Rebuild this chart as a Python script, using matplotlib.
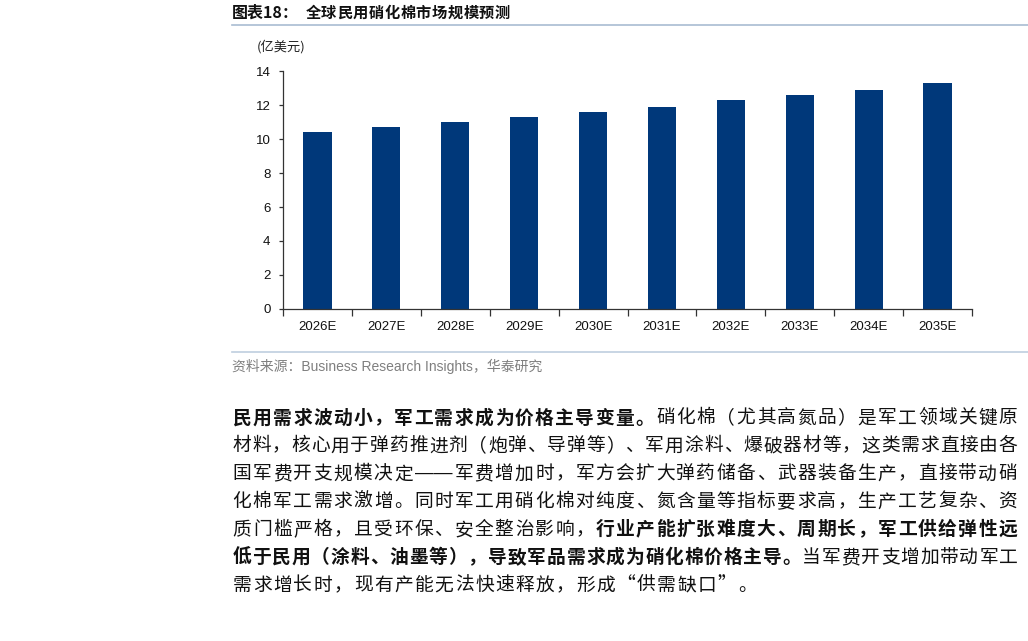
import matplotlib
matplotlib.use("Agg")
import matplotlib.pyplot as plt
from matplotlib.ticker import FixedLocator

W, H = 1028, 641

years = ["2026E", "2027E", "2028E", "2029E", "2030E",
         "2031E", "2032E", "2033E", "2034E", "2035E"]
market_size = [10.4, 10.7, 11.0, 11.3, 11.6, 11.9, 12.3, 12.6, 12.9, 13.3]

title_tag = "图表18："
title_text = "全球民用硝化棉市场规模预测"
unit_label = "(亿美元)"
source_text = "资料来源：Business Research Insights，华泰研究"

# paragraph lines as (text, bold) runs
paragraph = [
    [("民用需求波动小，军工需求成为价格主导变量。", True),
     ("硝化棉（尤其高氮品）是军工领域关键原", False)],
    [("材料，核心用于弹药推进剂（炮弹、导弹等）、军用涂料、爆破器材等，这类需求直接由各", False)],
    [("国军费开支规模决定——军费增加时，军方会扩大弹药储备、武器装备生产，直接带动硝", False)],
    [("化棉军工需求激增。同时军工用硝化棉对纯度、氮含量等指标要求高，生产工艺复杂、资", False)],
    [("质门槛严格，且受环保、安全整治影响，", False),
     ("行业产能扩张难度大、周期长，军工供给弹性远", True)],
    [("低于民用（涂料、油墨等），导致军品需求成为硝化棉价格主导。", True),
     ("当军费开支增加带动军工", False)],
    [("需求增长时，现有产能无法快速释放，形成“供需缺口”。", False)],
]

CJK = ["Noto Sans CJK SC", "DejaVu Sans"]
LAT = ["Liberation Sans", "Noto Sans CJK SC", "DejaVu Sans"]


def fx(x):
    return x / W


def fy(y):
    return 1 - y / H


fig = plt.figure(figsize=(W / 100, H / 100), dpi=100)

# title
fig.text(fx(232), fy(13), title_tag, family=CJK, fontsize=11.5, weight="bold",
         va="center", ha="left", color="#111111")
for k, c in enumerate(title_text):
    fig.text(fx(305 + (k + 0.5) * 15.8), fy(13), c, family=CJK, fontsize=11,
             weight="bold", va="center", ha="center", color="#111111")
fig.add_artist(plt.Line2D([fx(232), 1.0], [fy(25), fy(25)], color="#A9BCD2", lw=1.2))

# chart
ax = fig.add_axes([fx(283), fy(309), fx(972) - fx(283), fy(71) - fy(309)])
x = list(range(len(years)))
ax.bar(x, market_size, width=0.41, color="#00387A", edgecolor="none", zorder=2)
ax.set_xlim(-0.5, len(years) - 0.5)
ax.set_ylim(0, 14)
ax.set_yticks([0, 2, 4, 6, 8, 10, 12, 14])
ax.set_xticks(x)
ax.set_xticklabels(years)
ax.xaxis.set_minor_locator(FixedLocator([i - 0.5 for i in range(len(years) + 1)]))
ax.tick_params(axis="x", which="major", length=0, pad=9)
ax.tick_params(axis="x", which="minor", length=5, width=0.9, color="#333333", direction="out")
ax.tick_params(axis="y", length=3, width=0.9, color="#333333", direction="out", pad=6)
for lab in ax.get_xticklabels() + ax.get_yticklabels():
    lab.set_family(LAT)
    lab.set_fontsize(9.5)
    lab.set_color("#111111")
for s in ["top", "right"]:
    ax.spines[s].set_visible(False)
for s in ["left", "bottom"]:
    ax.spines[s].set_color("#333333")
    ax.spines[s].set_linewidth(0.9)

fig.text(fx(257), fy(47), unit_label, family=CJK, fontsize=9.5, va="center",
         ha="left", color="#222222")

# source
fig.add_artist(plt.Line2D([fx(232), 1.0], [fy(352), fy(352)], color="#BFCEDF", lw=1.2))
fig.text(fx(232), fy(366), source_text, family=LAT, fontsize=10, va="center",
         ha="left", color="#7F7F7F")

# paragraph, characters spread across the line like justified text
x0, x1 = 232, 1018
for i, runs in enumerate(paragraph):
    chars = []
    for text, b in runs:
        for c in text.replace("——", "\u0000"):
            chars.append((c, b))
    n = sum(2 if c == "\u0000" else 1 for c, _ in chars)
    last = i == len(paragraph) - 1
    step = 20.2 if last else (x1 - x0) / n
    y = 418 + i * 27.9
    pos = 0
    for c, b in chars:
        if c == "\u0000":
            cx = x0 + (pos + 1) * step
            fig.text(fx(cx), fy(y), "——", family=LAT, fontsize=13.5,
                     va="center", ha="center", color="#111111")
            pos += 2
            continue
        cx = x0 + (pos + 0.5) * step
        fig.text(fx(cx), fy(y), c, family=CJK, fontsize=13.5,
                 weight="bold" if b else 350, va="center", ha="center",
                 color="#111111")
        pos += 1

fig.savefig("out.png", dpi=100)
